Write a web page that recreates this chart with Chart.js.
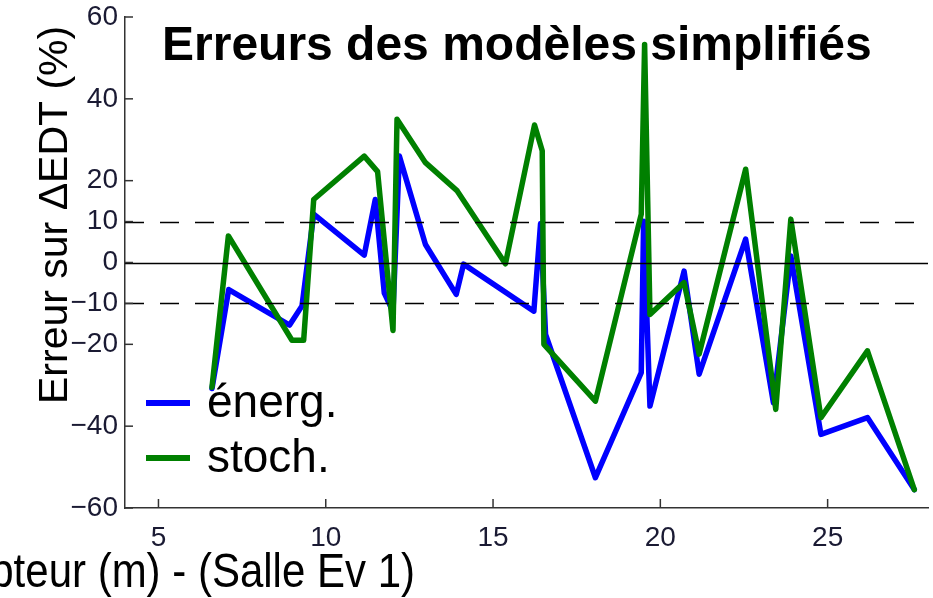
<!DOCTYPE html>
<html>
<head>
<meta charset="utf-8">
<script src="https://cdn.jsdelivr.net/npm/chart.js@4.4.1/dist/chart.umd.min.js"></script>
<style>
	html, body { margin: 0; padding: 0; background: #fff; }
	#wrap { width: 933px; height: 598px; }
</style>
</head>
<body>
<div id="wrap"><canvas id="errChart" width="933" height="598"></canvas></div>
<script>
// Values
const energX = [6.6, 7.1, 8.92, 9.29, 9.64, 11.15, 11.48, 11.75, 12.01, 12.2, 12.98, 13.9, 14.12,
	16.22, 16.42, 16.57, 18.06, 19.43, 19.5, 19.69, 20.71, 21.16, 22.55, 23.38, 23.9, 24.8, 26.19, 27.59];
const energY = [-30.8, -6.6, -15.3, -10.6, 11.8, 1.8, 15.4, -7.5, -12, 26.0, 4.4, -7.8, -0.4,
	-11.9, 9.5, -17.6, -52.6, -26.9, 10.1, -35.1, -2.1, -27.3, 5.7, -34.3, 1.6, -42.0, -37.9, -55.5];

const stochX = [6.6, 7.09, 8.99, 9.34, 9.64, 11.15, 11.55, 12.01, 12.13, 12.98, 13.93, 15.37,
	16.24, 16.47, 16.52, 18.06, 19.43, 19.53, 19.69, 20.71, 21.16, 22.55, 23.45, 23.9, 24.8, 26.19, 27.59];
const stochY = [-30.5, 6.5, -19.0, -19.0, 15.4, 26.0, 22.2, -16.6, 35.0, 24.4, 17.5, -0.3,
	33.6, 27.3, -20.0, -33.9, 11.8, 53.3, -12.7, -4.9, -22.4, 22.8, -35.9, 10.6, -37.9, -21.6, -55.5];

const seriesLabels = ['énerg.', 'stoch.'];
const xTicks = [5, 10, 15, 20, 25];
const yTicks = [-60, -40, -20, -10, 0, 10, 20, 40, 60];
const refLines = [0, 10, -10];

const titleText = 'Erreurs des modèles simplifiés';
const xTitle = 'Distance au capteur (m) - (Salle Ev 1)';
const yTitle = 'Erreur sur ΔEDT (%)';

const blue = '#0000ff';
const green = '#008000';
const axisColor = '#333333';
const fontFamily = 'Arial, "Liberation Sans", Helvetica, sans-serif';

function toPoints(xs, ys) {
	let pts = [];
	for(let i = 0; i < xs.length; i++) {
		pts.push({x: xs[i], y: ys[i]});
	}
	return pts;
}

function minusLabel(v) {
	return v < 0 ? '\u2212' + Math.abs(v) : String(v);
}

// extra drawing: reference lines, inward ticks, title, legend, axis titles
const decorPlugin = {
	id: 'decor',
	afterDatasetsDraw(chart) {
		const ctx = chart.ctx;
		const area = chart.chartArea;
		const xs = chart.scales.x;
		const ys = chart.scales.y;

		ctx.save();
		// reference lines at 0 and +/-10
		ctx.strokeStyle = '#000';
		ctx.lineWidth = 1.5;
		refLines.forEach(function(v) {
			const py = Math.round(ys.getPixelForValue(v)) + 0.5;
			ctx.setLineDash(v === 0 ? [] : [19, 16]);
			ctx.beginPath();
			ctx.moveTo(area.left, py);
			ctx.lineTo(area.right, py);
			ctx.stroke();
		});
		ctx.setLineDash([]);

		// inward tick marks
		ctx.strokeStyle = axisColor;
		ctx.lineWidth = 1.5;
		yTicks.forEach(function(v) {
			const py = ys.getPixelForValue(v);
			ctx.beginPath();
			ctx.moveTo(area.left, py);
			ctx.lineTo(area.left + 8, py);
			ctx.stroke();
		});
		xTicks.forEach(function(v) {
			const px = xs.getPixelForValue(v);
			ctx.beginPath();
			ctx.moveTo(px, area.bottom);
			ctx.lineTo(px, area.bottom - 9);
			ctx.stroke();
		});

		// title inside the plot
		ctx.fillStyle = '#000';
		ctx.font = 'bold 48px ' + fontFamily;
		ctx.textAlign = 'left';
		ctx.textBaseline = 'alphabetic';
		ctx.fillText(titleText, 162, 60);

		// legend inside the plot, no box
		const ds = chart.data.datasets;
		ctx.font = '46px ' + fontFamily;
		for(let i = 0; i < ds.length; i++) {
			const ly = 403 + i * 55;
			ctx.strokeStyle = ds[i].borderColor;
			ctx.lineWidth = 6;
			ctx.beginPath();
			ctx.moveTo(146, ly);
			ctx.lineTo(190, ly);
			ctx.stroke();
			ctx.fillText(ds[i].label, 207, ly + 14);
		}

		// x axis title, a bit taller than wide as in the source figure
		ctx.save();
		ctx.font = '42px ' + fontFamily;
		ctx.textAlign = 'right';
		ctx.translate(415, 587);
		ctx.scale(1, 1.14);
		ctx.fillText(xTitle, 0, 0);
		ctx.restore();

		// y axis title
		ctx.save();
		ctx.font = '41px ' + fontFamily;
		ctx.textAlign = 'left';
		ctx.translate(67, 404);
		ctx.rotate(-Math.PI / 2);
		ctx.fillText(yTitle, 0, 0);
		ctx.restore();

		ctx.restore();
	}
};

const config = {
	type: 'line',
	data: {
		datasets: [
			{
				label: seriesLabels[0],
				data: toPoints(energX, energY),
				borderColor: blue,
				borderWidth: 5.5,
				order: 1,
			},
			{
				label: seriesLabels[1],
				data: toPoints(stochX, stochY),
				borderColor: green,
				borderWidth: 5.5,
				order: 0,
			}
		],
	},
	options: {
		responsive: false,
		animation: false,
		devicePixelRatio: 1,
		layout: {
			padding: {left: 0, right: 5, top: 17, bottom: 0},
		},
		elements: {
			point: { radius: 0 },
			line: { tension: 0, borderJoinStyle: 'round', borderCapStyle: 'round', fill: false },
		},
		plugins: {
			legend: { display: false },
			title: { display: false },
			tooltip: { enabled: false },
		},
		scales: {
			x: {
				type: 'linear',
				min: 4,
				max: 28,
				grid: { display: false, drawTicks: false },
				border: { display: true, color: axisColor, width: 1.5 },
				afterBuildTicks: function(scale) {
					scale.ticks = xTicks.map(function(v) { return {value: v}; });
				},
				afterFit: function(scale) {
					scale.height = 90;
					scale.paddingLeft = 0;
					scale.paddingRight = 0;
				},
				ticks: {
					autoSkip: false,
					maxRotation: 0,
					padding: 13,
					color: '#1a1a33',
					font: { family: fontFamily, size: 28 },
				},
			},
			y: {
				type: 'linear',
				min: -60,
				max: 60,
				grid: { display: false, drawTicks: false },
				border: { display: true, color: axisColor, width: 1.5 },
				afterBuildTicks: function(scale) {
					scale.ticks = yTicks.map(function(v) { return {value: v}; });
				},
				afterFit: function(scale) {
					scale.width = 125;
					scale.paddingTop = 0;
					scale.paddingBottom = 0;
				},
				ticks: {
					autoSkip: false,
					padding: 7,
					color: '#1a1a33',
					font: { family: fontFamily, size: 28 },
					callback: minusLabel,
				},
			},
		},
	},
	plugins: [decorPlugin],
};

const errChart = new Chart(document.getElementById('errChart').getContext('2d'), config);
</script>
</body>
</html>
